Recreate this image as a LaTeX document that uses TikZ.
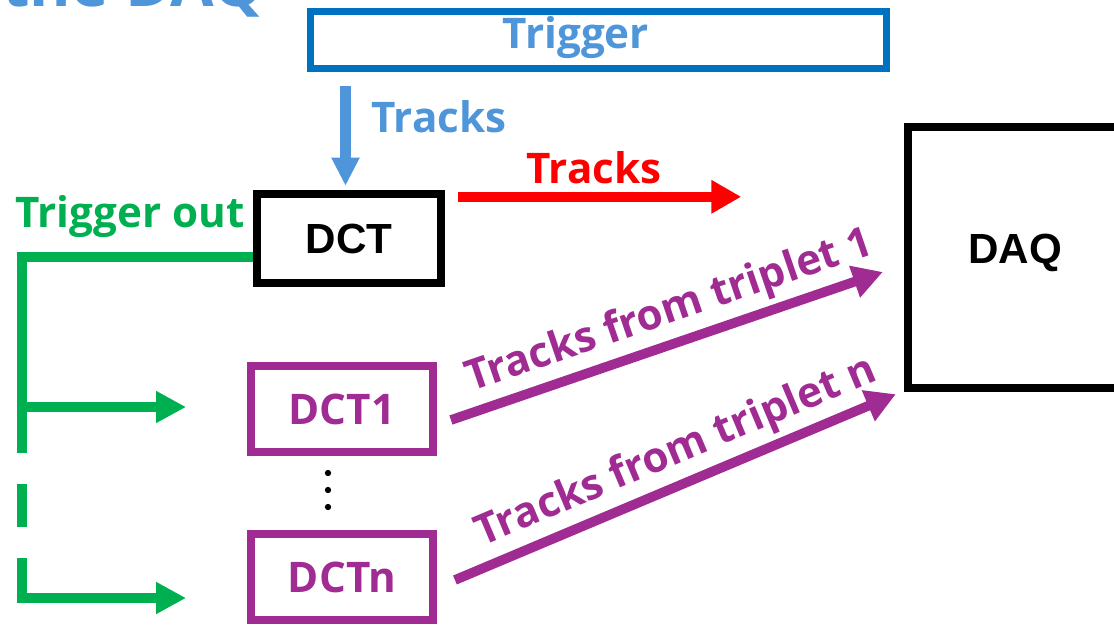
\documentclass[tikz,border=0pt]{standalone}
\usepackage{fontspec}
\setmainfont{Open Sans}
\newfontfamily\boxfont{Liberation Sans}
\usetikzlibrary{arrows.meta,positioning,calc}

\definecolor{trigblue}{HTML}{0070C0}
\definecolor{lightblue}{HTML}{4E95D9}
\definecolor{outgreen}{HTML}{00B050}
\definecolor{tripurple}{HTML}{A02B93}

\begin{document}
\begin{tikzpicture}[x=0.02cm, y=-0.02cm,
    lbl/.style={font=\fontsize{24}{28}\selectfont\bfseries, inner sep=0pt},
    dctbox/.style={draw=black, line width=4.8pt, inner sep=0pt, minimum width=3.68cm, minimum height=1.78cm,
        font=\boxfont\fontsize{24}{28}\selectfont\bfseries},
    unitbox/.style={draw=tripurple, text=tripurple, line width=4.5pt, inner sep=0pt,
        minimum width=3.64cm, minimum height=1.72cm, font=\fontsize{24}{28}\selectfont\bfseries},
    trackarrow/.style={line width=5.5pt, -{Triangle[length=17pt,width=18pt]}},
    trigline/.style={outgreen, line width=5.7pt}]
    \useasboundingbox (0,0) rectangle (1114,626);

    % title, cut off by the page edge
    \node[font=\fontsize{36}{42}\selectfont\bfseries, text=lightblue, anchor=base west, inner sep=0pt] (title) at (2,6) {the DAQ};

    % Trigger board
    \node[draw=trigblue, line width=4pt, minimum width=11.52cm, minimum height=1.14cm, inner sep=0pt] (trig) at (598.5,40) {};
    \node[lbl, text=lightblue] (trigtxt) at (576,38) {Trigger};

    % DCT and DAQ
    \node[dctbox] (dct) at (349,238.5) {DCT};
    \node[dctbox, minimum width=4.8cm, minimum height=5.22cm] (daq) at (1028,257.5) {};
    \node[font=\boxfont\fontsize{24}{28}\selectfont\bfseries] (daqtxt) at (1015,253) {DAQ};

    % one DCT per triplet
    \node[unitbox] (dct1) at (342,409) {DCT1};
    \node[unitbox] (dctn) at (342,577) {DCTn};
    \foreach \y in {473,490,507}
        \fill (328,\y) circle[radius=1.8pt];

    % tracks from the trigger
    \coordinate (bin) at ($(dct.north)+(-3.5,-4)$);
    \draw[lightblue, line width=6pt, -{Triangle[length=16pt,width=15pt]}] ($(bin |- trig.south)+(0,14)$) -- (bin);
    \node[lbl, text=lightblue] (tracksin) at (439,117) {Tracks};

    % tracks out of the DCT
    \coordinate (rout) at ($(dct.north east)+(13,7)$);
    \coordinate (rend) at ($(rout)+(283,0)$);
    \draw[trackarrow, red] (rout) -- (rend);
    \node[lbl, text=red] (tracksout) at (594,168) {Tracks};

    % trigger out, fanned to the triplet DCTs
    \node[lbl, text=outgreen] (trigout) at (130,217) {Trigger out};
    \coordinate (tap) at ($(dct.west)+(0,18.5)$);
    \coordinate (g1) at ($(dct1.west)+(-61,-2)$);
    \coordinate (gn) at ($(dctn.west)+(-61,21)$);
    \draw[trigline] (tap) -| (22,453);
    \draw[trigline, -{Triangle[length=17pt,width=17pt]}] (22,407) -- (g1);
    \draw[trigline] (22,484) -- (22,527);
    \draw[trigline, -{Triangle[length=17pt,width=17pt]}] (22,558) |- (gn);

    % triplet tracks to the DAQ
    \coordinate (p1s) at ($(dct1.east)+(14,11)$);
    \coordinate (p1e) at ($(daq.west)+(-21,14.5)$);
    \coordinate (pns) at ($(dctn.east)+(18,3)$);
    \coordinate (pne) at ($(daq.south west)+(-8,2)$);
    \draw[trackarrow, tripurple] (p1s) -- (p1e) node[lbl, pos=0.53, sloped, above=3pt] (lab1) {Tracks from triplet 1};
    \draw[trackarrow, tripurple] (pns) -- (pne) node[lbl, pos=0.53, sloped, above=3pt] (labn) {Tracks from triplet n};
\end{tikzpicture}
\end{document}
